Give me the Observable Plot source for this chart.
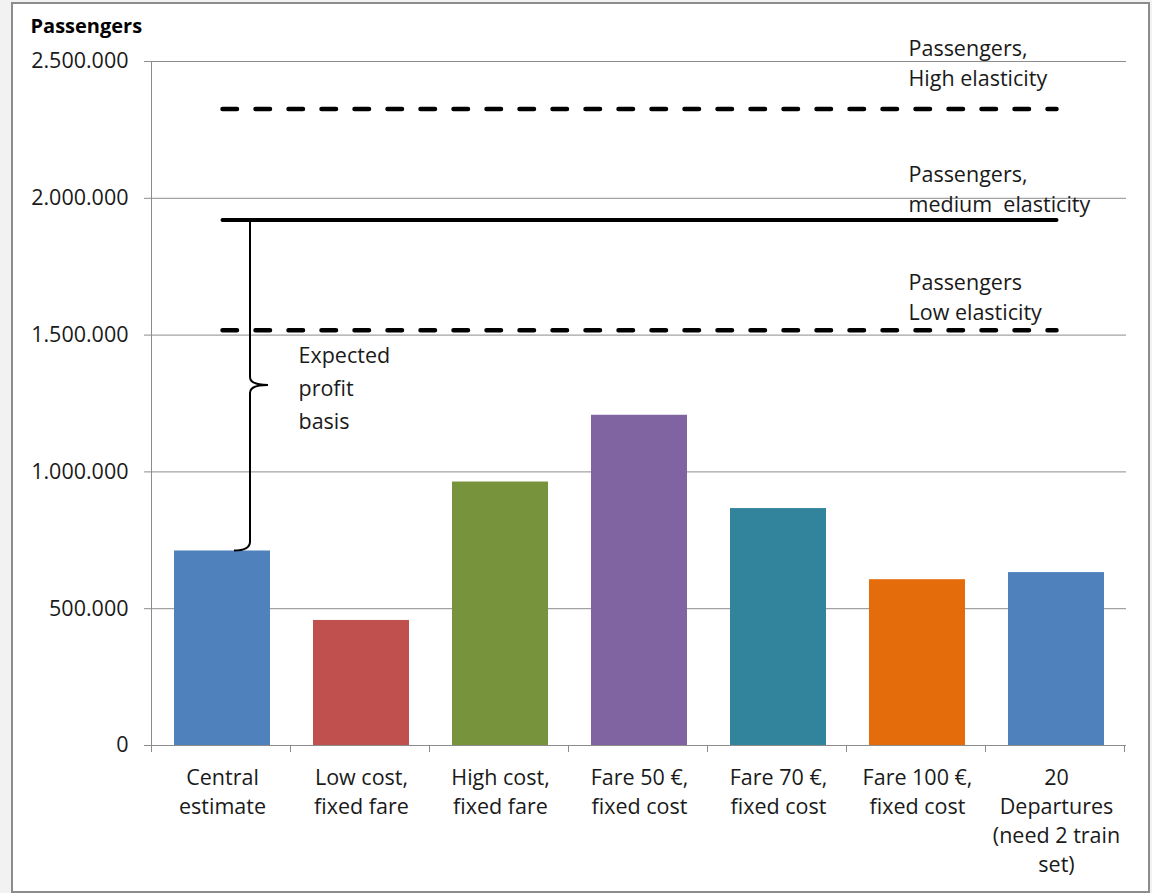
<!DOCTYPE html>
<html>
<head>
<meta charset="utf-8">
<script src="https://cdn.jsdelivr.net/npm/d3@7"></script>
<script src="https://cdn.jsdelivr.net/npm/@observablehq/plot@0.6"></script>
<style>
  html, body { margin: 0; padding: 0; background: #f2f2f2; }
  #panel { position: absolute; left: 11px; top: 2px; width: 1135px; height: 887px;
           border: 2px solid #8c8c8c; background: #ffffff; }
  #chart { position: absolute; left: 0; top: 0; }
  #chart svg text { font-variant-ligatures: none; }
</style>
</head>
<body>
<div id="panel"></div>
<div id="chart"></div>
<script>
// Scenarios shown as bars
const scenarios = ["central", "lowCost", "highCost", "fare50", "fare70", "fare100", "dep20"];
const scenarioLabels = [
  "Central\nestimate",
  "Low cost,\nfixed fare",
  "High cost,\nfixed fare",
  "Fare 50 €,\nfixed cost",
  "Fare 70 €,\nfixed cost",
  "Fare 100 €,\nfixed cost",
  "20\nDepartures\n(need 2 train\nset)"
];
const passengers = [711000, 457000, 963000, 1207000, 866000, 606000, 632000];
const barColors = ["#4f81bd", "#c0504d", "#77933c", "#8064a2", "#31849b", "#e46c0a", "#4f81bd"];

// Passenger levels under three demand elasticities
const elasticityKeys = ["high", "medium", "low"];
const elasticityLabels = ["Passengers,\nHigh elasticity", "Passengers,\nmedium  elasticity", "Passengers\nLow elasticity"];
const elasticityPassengers = [2326000, 1921000, 1518000];

const yTicks = [0, 500000, 1000000, 1500000, 2000000, 2500000];
const yTitle = "Passengers";
const braceLabel = "Expected\nprofit\nbasis";

// Tables built from the arrays above
const bars = scenarios.map((key, i) => ({key, label: scenarioLabels[i], value: passengers[i]}));
const levels = elasticityKeys.map((key, i) => ({key, label: elasticityLabels[i], value: elasticityPassengers[i]}));
const first = scenarios[0], last = scenarios[scenarios.length - 1];
const levelLine = (k) => {
  const v = levels.find(d => d.key === k).value;
  return [{x: first, y: v}, {x: last, y: v}];
};

const fmt = (d) => d3.format(",")(d).replace(/,/g, ".");
const FONT = "'Open Sans', 'Noto Sans', sans-serif";
const FS = 21.5;
const levelDy = {high: -23, medium: -8, low: -10};

// Axis lines, band-edge ticks and the brace between the central bar and the medium level
function frameLines(index, scales, values, dims) {
  const {x, y} = scales;
  const g = d3.create("svg:g").attr("fill", "none");
  const [r0] = x.range();
  const step = x.step();
  const y0 = y(0);
  const yTop = y(yTicks[yTicks.length - 1]);
  // y axis line
  g.append("line").attr("x1", r0 + 0.5).attr("x2", r0 + 0.5)
    .attr("y1", yTop).attr("y2", y0 + 7).attr("stroke", "#8c8c8c");
  // x tick marks at band edges
  for (let i = 0; i <= x.domain().length; ++i) {
    const xx = Math.round(r0 + i * step) + 0.5;
    g.append("line").attr("x1", xx).attr("x2", xx)
      .attr("y1", y0).attr("y2", y0 + 7).attr("stroke", "#8c8c8c");
  }
  // brace
  const xc = x(first) + x.bandwidth() / 2 + 28;
  const yb = y(passengers[0]);
  const yt = y(levels.find(d => d.key === "medium").value);
  const ym = (yb + yt) / 2;
  const p = d3.path();
  p.moveTo(xc - 16, yb);
  p.quadraticCurveTo(xc, yb, xc, yb - 9);
  p.lineTo(xc, ym + 8);
  p.quadraticCurveTo(xc, ym, xc + 18, ym);
  p.quadraticCurveTo(xc, ym, xc, ym - 8);
  p.lineTo(xc, yt);
  g.append("path").attr("d", p.toString()).attr("stroke", "#000").attr("stroke-width", 2);
  return g.node();
}

const chart = Plot.plot({
  width: 1152,
  height: 893,
  marginLeft: 151,
  marginRight: 26,
  marginTop: 61,
  marginBottom: 148,
  style: {background: "transparent", fontFamily: FONT, fontSize: FS + "px", color: "#1a1a1a", overflow: "visible"},
  x: {domain: scenarios, paddingInner: 0.31, paddingOuter: 0.155, axis: null},
  y: {domain: [0, 2500000], ticks: yTicks, tickFormat: fmt, tickSize: 0, tickPadding: 23, label: null},
  color: {domain: scenarios, range: barColors},
  marks: [
    Plot.ruleY(yTicks, {stroke: "#8c8c8c", strokeWidth: 1, insetLeft: -7}),
    Plot.barY(bars, {x: "key", y: "value", fill: "key"}),
    Plot.line(levelLine("high"), {x: "x", y: "y", stroke: "#000", strokeWidth: 4.5, strokeDasharray: "14.5,18.5", strokeLinecap: "round"}),
    Plot.line(levelLine("medium"), {x: "x", y: "y", stroke: "#000", strokeWidth: 4}),
    Plot.line(levelLine("low"), {x: "x", y: "y", stroke: "#000", strokeWidth: 4.5, strokeDasharray: "14.5,18.5", strokeLinecap: "round"}),
    frameLines,
    // category labels under the bars
    Plot.text(bars, {x: "key", text: "label", frameAnchor: "bottom", lineAnchor: "top", dy: 19.4,
      lineHeight: 29 / FS, fontSize: FS, fill: "#1a1a1a"}),
    // level labels at the right
    ...elasticityKeys.map(k => Plot.text(levels.filter(d => d.key === k), {
      x: () => last, y: "value", text: "label", textAnchor: "start", lineAnchor: "bottom",
      dx: -148, dy: levelDy[k], lineHeight: 30 / FS, fontSize: FS, fill: "#1a1a1a"})),
    // brace label
    Plot.text([{x: first, y: (passengers[0] + levels.find(d => d.key === "medium").value) / 2, t: braceLabel}], {
      x: "x", y: "y", text: "t", textAnchor: "start", lineAnchor: "middle", dx: 76,
      lineHeight: 33 / FS, fontSize: FS, fill: "#1a1a1a"}),
    // y title
    Plot.text([yTitle], {text: d => d, frameAnchor: "top-left", textAnchor: "start", lineAnchor: "bottom",
      dx: -121, dy: -29, fontWeight: "bold", fontSize: 20, fill: "#000"})
  ]
});
document.getElementById("chart").append(chart);
</script>
</body>
</html>
